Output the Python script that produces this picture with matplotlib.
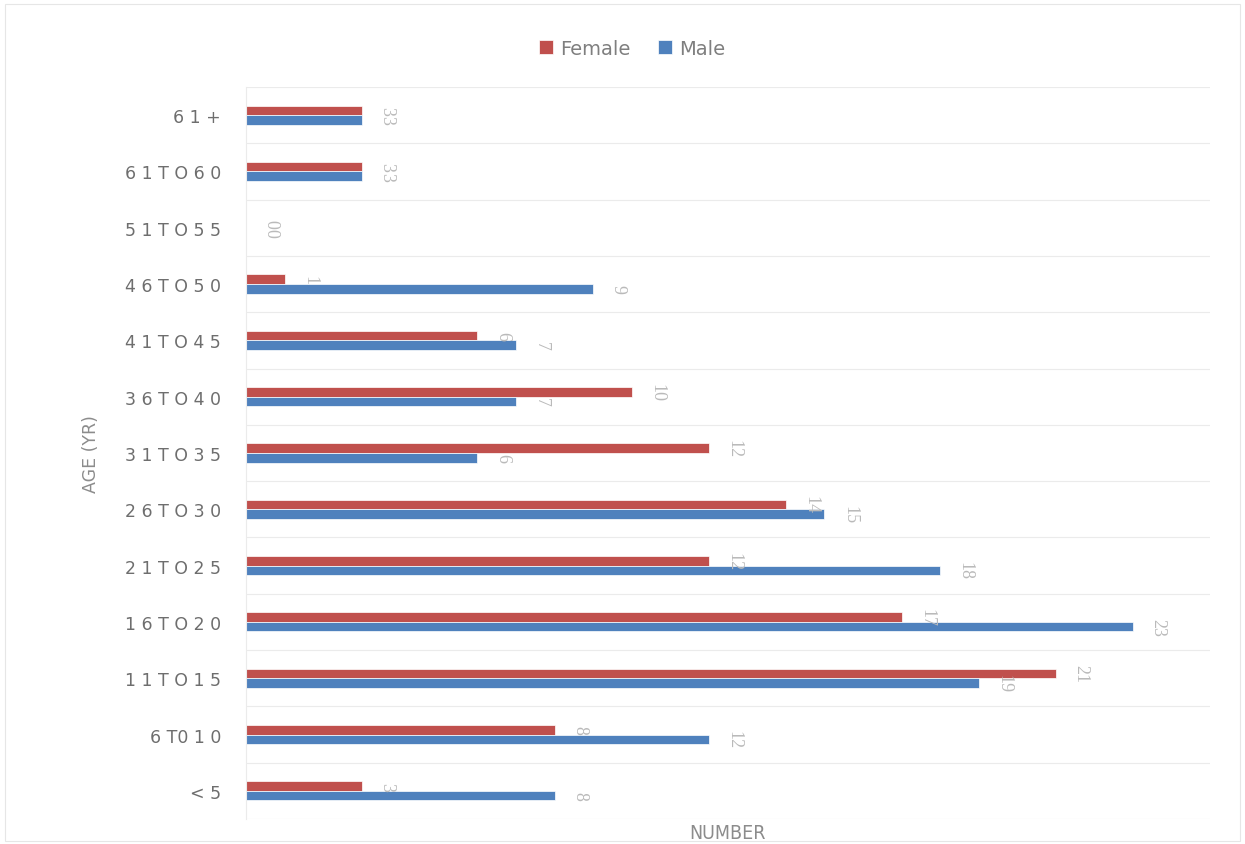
import matplotlib.pyplot as plt
import numpy as np
from matplotlib.patches import Rectangle

# age groups, bottom to top
age_groups = ["< 5", "6 T0 1 0", "1 1 T O 1 5", "1 6 T O 2 0", "2 1 T O 2 5",
              "2 6 T O 3 0", "3 1 T O 3 5", "3 6 T O 4 0", "4 1 T O 4 5",
              "4 6 T O 5 0", "5 1 T O 5 5", "6 1 T O 6 0", "6 1 +"]
female = [3, 8, 21, 17, 12, 14, 12, 10, 6, 1, 0, 3, 3]
male = [8, 12, 19, 23, 18, 15, 6, 7, 7, 9, 0, 3, 3]

red = "#C0504D"
blue = "#4F81BD"
grey_txt = "#6E6E6E"
lbl_col = "#BABABA"

fig = plt.figure(figsize=(12.45, 8.45), dpi=100)
ax = fig.add_axes([0.1976, 0.0296, 0.7744, 0.8663])

y = np.arange(len(age_groups))
h = 0.17
bf = ax.barh(y + h / 2, female, height=h, color=red, edgecolor="white", linewidth=0.5, label="Female")
bm = ax.barh(y - h / 2, male, height=h, color=blue, edgecolor="white", linewidth=0.5, label="Male")

# rotated value labels beside each bar
for bars, vals in ((bf, female), (bm, male)):
    for b, v in zip(bars, vals):
        ax.annotate(str(v), (b.get_width(), b.get_y() + b.get_height() / 2),
                    xytext=(18, 0), textcoords="offset points", rotation=-90,
                    ha="center", va="center", fontsize=13, color=lbl_col,
                    family="Liberation Serif")

ax.set_xlim(0, 25)
ax.set_ylim(-0.5, len(age_groups) - 0.5)
ax.set_yticks(y)
ax.set_yticklabels(age_groups, fontsize=12.5, color=grey_txt)
ax.tick_params(axis="y", length=0, pad=18)
ax.set_xticks([])

# horizontal separators between categories
for g in np.arange(-0.5, len(age_groups), 1):
    ax.axhline(g, color="#EBEBEB", linewidth=0.8, zorder=0)

for s in ("top", "right", "bottom"):
    ax.spines[s].set_visible(False)
ax.spines["left"].set_color("#EBEBEB")

ax.set_ylabel("AGE (YR)", fontsize=12.5, color="#8C8C8C", labelpad=18)
fig.text(0.584, 0.014, "NUMBER", ha="center", va="center", fontsize=14,
         color="#8C8C8C", fontstretch="condensed")

handles, labels = ax.get_legend_handles_labels()
fig.legend(handles, labels, loc="center", bbox_to_anchor=(0.508, 0.942), ncol=2,
           frameon=False, fontsize=14, labelcolor="#7F7F7F", handlelength=0.7,
           handleheight=0.7, handletextpad=0.4, columnspacing=1.4)

# light border around the chart area
fig.patches.append(Rectangle((0.004, 0.004), 0.992, 0.99, transform=fig.transFigure,
                             fill=False, edgecolor="#E6E6E6", linewidth=0.8))

fig.savefig("out.png", dpi=100)
